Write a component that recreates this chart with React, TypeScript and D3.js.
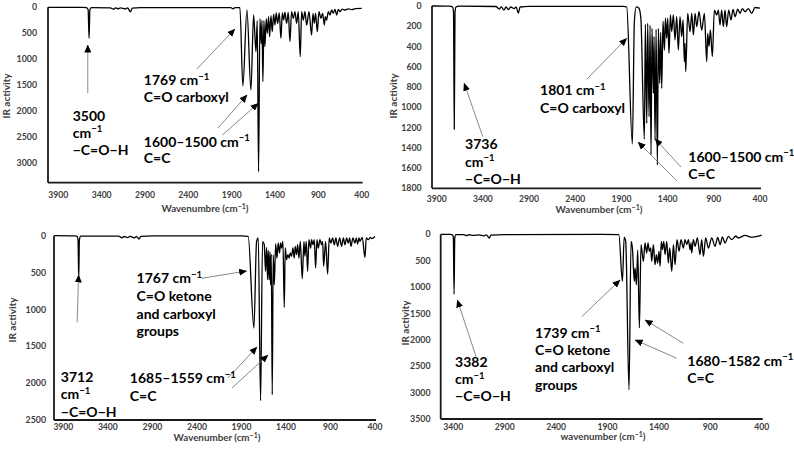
import React from 'react';
import * as d3 from 'd3';

type Pt = [number, number];

// ---------- DATA (wavenumber cm-1, IR activity) ----------
const p1Spectrum: Pt[] = [
  [4019,0],[3620,2],[3575,6],[3556,45],[3545,598],[3536,45],[3518,8],[3300,10],[3262,38],[3240,10],[3205,30],[3185,10],[3125,30],[3100,12],[3068,88],[3048,14],[2950,5],[1910,5],[1883,28],[1862,6],[1805,6],
  [1771,1519],[1724,50],[1678,1597],[1647,149],[1620,856],[1605,260],[1590,3173],[1574,220],[1559,700],[1550,250],[1540,1436],[1528,260],[1517,760],[1501,220],[1490,503],[1474,180],[1463,567],[1447,160],[1432,470],[1416,130],[1401,342],[1386,110],[1370,309],[1351,110],[1332,599],[1316,110],[1301,245],[1286,100],[1266,309],[1247,100],[1228,663],[1209,84],[1189,213],[1170,84],[1151,309],[1132,84],[1109,953],[1093,84],[1074,245],[1055,84],[1035,342],[1008,84],[978,535],[962,116],[947,309],[932,116],[912,470],[893,84],[870,213],[851,116],[831,342],[820,180],[805,245],[785,84],[766,149],[747,52],[728,116],[708,40],[689,149],[670,40],[651,84],[624,35],[593,52],[554,30],[516,45],[470,25],[400,20]
];
const p2Spectrum: Pt[] = [
  [3951,0],[3760,2],[3728,10],[3718,60],[3710,1217],[3702,60],[3690,8],[3660,2],[3260,5],[3222,30],[3200,8],[3172,40],[3150,10],[3122,35],[3100,10],[3062,25],[3040,10],[3016,70],[2998,10],[2900,3],[1880,3],[1843,10],
  [1782,1363],[1760,150],[1740,8],[1712,20],[1690,120],[1652,1316],[1641,180],[1626,1158],[1616,170],[1601,1093],[1590,190],[1580,1471],[1569,220],[1554,862],[1547,300],[1536,1323],[1525,230],[1511,1570],[1500,220],[1486,764],[1475,260],[1464,813],[1450,150],[1435,435],[1424,120],[1410,319],[1399,120],[1385,467],[1370,89],[1356,253],[1338,89],[1320,336],[1302,105],[1284,435],[1266,105],[1248,303],[1233,138],[1219,550],[1212,369],[1204,648],[1183,72],[1157,253],[1139,72],[1121,286],[1103,72],[1085,204],[1060,56],[1031,237],[1002,72],[977,550],[966,270],[952,401],[937,237],[916,500],[894,40],[869,89],[851,40],[833,188],[815,40],[797,204],[779,40],[761,204],[739,40],[714,138],[692,33],[670,105],[641,30],[616,72],[591,25],[562,56],[526,25],[490,72],[454,15],[400,20]
];
const p3Spectrum: Pt[] = [
  [4005,0],[3770,3],[3745,8],[3735,60],[3727,575],[3720,60],[3708,5],[3280,5],[3240,30],[3220,8],[3180,25],[3150,8],[3100,30],[3080,10],[3050,45],[3030,10],[2900,3],[1900,3],[1824,10],
  [1760,1252],[1730,76],[1711,31],[1685,2238],[1663,80],[1644,120],[1629,483],[1618,160],[1606,597],[1599,200],[1588,600],[1580,220],[1573,664],[1565,250],[1554,2157],[1543,260],[1531,664],[1516,110],[1501,303],[1487,99],[1472,235],[1460,99],[1449,167],[1434,76],[1419,972],[1408,167],[1393,325],[1378,257],[1363,303],[1352,235],[1337,280],[1322,167],[1307,303],[1296,144],[1281,257],[1269,122],[1254,303],[1239,76],[1217,583],[1198,76],[1187,280],[1172,76],[1157,483],[1142,54],[1123,167],[1112,54],[1097,122],[1082,54],[1067,438],[1052,54],[1037,167],[1018,54],[1000,122],[988,76],[977,416],[955,76],[932,520],[914,31],[895,99],[876,31],[857,122],[839,31],[820,144],[797,31],[775,144],[756,31],[737,122],[719,31],[700,99],[685,31],[670,144],[648,31],[625,99],[610,31],[595,113],[580,31],[569,76],[543,22],[513,294],[498,31],[475,54],[453,22],[438,40],[400,10]
];
const p4Spectrum: Pt[] = [
  [3523,0],[3430,3],[3408,10],[3400,60],[3393,1136],[3386,60],[3375,8],[3300,8],[3270,25],[3250,8],[3200,20],[3150,10],[3100,30],[3080,10],[3050,70],[3035,15],[2900,5],[1950,3],[1790,8],
  [1755,891],[1738,60],[1723,133],[1691,2943],[1671,133],[1658,260],[1639,891],[1632,638],[1619,954],[1606,300],[1590,1775],[1574,196],[1551,512],[1535,165],[1519,354],[1506,165],[1493,323],[1480,260],[1470,512],[1454,196],[1438,575],[1425,386],[1412,544],[1399,323],[1389,607],[1376,133],[1366,291],[1353,133],[1340,386],[1324,133],[1308,544],[1295,260],[1275,701],[1259,196],[1243,575],[1224,102],[1204,323],[1185,102],[1162,260],[1146,102],[1129,196],[1113,102],[1097,291],[1087,165],[1081,354],[1065,102],[1048,228],[1026,70],[1000,386],[984,102],[967,417],[945,70],[919,260],[886,70],[854,228],[828,57],[805,196],[782,50],[757,165],[724,38],[692,102],[653,32],[627,70],[562,20],[497,55],[400,15]
];

const xTicksA = [3900, 3400, 2900, 2400, 1900, 1400, 900, 400];
const xTicksB = [3400, 2900, 2400, 1900, 1400, 900, 400];
const p1YTicks = [0, 500, 1000, 1500, 2000, 2500, 3000];
const p2YTicks = [0, 200, 400, 600, 800, 1000, 1200, 1400, 1600, 1800];
const p3YTicks = [0, 500, 1000, 1500, 2000, 2500];
const p4YTicks = [0, 500, 1000, 1500, 2000, 2500, 3000, 3500];

const xTitles = ['Wavenumbre (cm^−1^)', 'Wavenumber (cm^−1^)', 'Wavenumber (cm^−1^)', 'wavenumber (cm^−1^)'];
const yTitle = 'IR activity';

// annotations: text anchor and arrows in data coordinates
const p1Notes = [
  { lines: ['3500', 'cm^−1', '−C=O−H'], at: [3734, 2195] as Pt },
  { lines: ['1769 cm^−1', 'C=O carboxyl'], at: [2914, 1500] as Pt },
  { lines: ['1600–1500 cm^−1', 'C=C'], at: [2914, 2691] as Pt },
];
const p1Arrows: [Pt, Pt][] = [
  [[3560, 1654], [3560, 728]],
  [[2302, 1191], [1863, 419]],
  [[2057, 2330], [1722, 1693]],
  [[2006, 2465], [1594, 1853]],
];
const p2Notes = [
  { lines: ['3736', 'cm^−1', '−C=O−H'], at: [3593, 1412] as Pt },
  { lines: ['1801 cm^−1', 'C=O carboxyl'], at: [2781, 879] as Pt },
  { lines: ['1600–1500 cm^−1', 'C=C'], at: [1176, 1537] as Pt },
];
const p2Arrows: [Pt, Pt][] = [
  [[3401, 1290], [3603, 763]],
  [[2276, 724], [1843, 319]],
  [[1298, 1728], [1720, 1343]],
  [[1255, 1589], [1536, 1313]],
];
const p3Notes = [
  { lines: ['3712', 'cm^−1', '−C=O−H'], at: [3928, 1981] as Pt },
  { lines: ['1767 cm^−1', 'C=O ketone', 'and carboxyl', 'groups'], at: [3078, 646] as Pt },
  { lines: ['1685–1559 cm^−1', 'C=C'], at: [3153, 2003] as Pt },
];
const p3Arrows: [Pt, Pt][] = [
  [[3745, 1175], [3729, 533]],
  [[2347, 578], [1842, 479]],
  [[2052, 1931], [1726, 1510]],
  [[2007, 2067], [1602, 1618]],
];
const p4Notes = [
  { lines: ['3382', 'cm^−1', '−C=O−H'], at: [3383, 2508] as Pt },
  { lines: ['1739 cm^−1', 'C=O ketone', 'and carboxyl', 'groups'], at: [2605, 1958] as Pt },
  { lines: ['1680–1582 cm^−1', 'C=C'], at: [1124, 2489] as Pt },
];
const p4Arrows: [Pt, Pt][] = [
  [[3179, 2318], [3361, 1244]],
  [[2151, 1561], [1778, 866]],
  [[1227, 2348], [1632, 2002]],
  [[1163, 2064], [1535, 1623]],
];

// ---------- LAYOUT ----------
const panels = [
  { spectrum: p1Spectrum, xDomain: [4019, 400], yDomain: [0, 3386], xTicks: xTicksA, yTicks: p1YTicks,
    box: { l: 48, r: 361.7, t: 7.3, b: 182.7 }, yTickX: 37, xTickY: 195, xTitleAt: [205, 212], yTitleAt: [6.5, 96],
    title: xTitles[0], notes: p1Notes, arrows: p1Arrows, noteGap: 16.8 },
  { spectrum: p2Spectrum, xDomain: [3951, 400], yDomain: [0, 1800], xTicks: xTicksA, yTicks: p2YTicks,
    box: { l: 432, r: 760, t: 6, b: 188.3 }, yTickX: 421.7, xTickY: 198.5, xTitleAt: [599, 213], yTitleAt: [393, 96],
    title: xTitles[1], notes: p2Notes, arrows: p2Arrows, noteGap: 17.7 },
  { spectrum: p3Spectrum, xDomain: [4005, 400], yDomain: [0, 2500], xTicks: xTicksA, yTicks: p3YTicks,
    box: { l: 54, r: 375, t: 235.7, b: 420 }, yTickX: 46, xTickY: 426.5, xTitleAt: [217, 440.8], yTitleAt: [12.5, 320],
    title: xTitles[2], notes: p3Notes, arrows: p3Arrows, noteGap: 17.7 },
  { spectrum: p4Spectrum, xDomain: [3523, 400], yDomain: [0, 3500], xTicks: xTicksB, yTicks: p4YTicks,
    box: { l: 440.7, r: 761.7, t: 234.3, b: 419 }, yTickX: 430.5, xTickY: 426.5, xTitleAt: [603, 440.3], yTitleAt: [405, 323],
    title: xTitles[3], notes: p4Notes, arrows: p4Arrows, noteGap: 17.4 },
];

const FONT = 'Lato, "Open Sans", sans-serif';

function RichText({ text, supSize, shift }: { text: string; supSize: number; shift: number }) {
  const parts = text.split('^');
  const out: React.ReactNode[] = [];
  let raised = false;
  parts.forEach((p, i) => {
    if (p === '') { if (i % 2 === 1) raised = false; return; }
    if (i % 2 === 1) {
      out.push(<tspan key={i} dy={-shift} fontSize={supSize}>{p}</tspan>);
      raised = true;
    } else {
      out.push(<tspan key={i} dy={raised ? shift : 0}>{p}</tspan>);
      raised = false;
    }
  });
  return <>{out}</>;
}

function Panel({ cfg }: { cfg: typeof panels[number] }) {
  const { box } = cfg;
  const sx = d3.scaleLinear().domain(cfg.xDomain).range([box.l, box.r]);
  const sy = d3.scaleLinear().domain(cfg.yDomain).range([box.t, box.b]);
  const line = d3.line<Pt>().x(d => sx(d[0])).y(d => sy(d[1])).curve(d3.curveMonotoneX);
  return (
    <g>
      {cfg.yTicks.map(t => (
        <text key={'y' + t} x={cfg.yTickX} y={sy(t)} dy="0.35em" textAnchor="end" fontFamily={FONT}
          fontWeight={700} fontSize={8.8} fill="#404040">{t}</text>
      ))}
      {cfg.xTicks.map(t => (
        <text key={'x' + t} x={sx(t)} y={cfg.xTickY} dy="0.35em" textAnchor="middle" fontFamily={FONT}
          fontWeight={700} fontSize={8.6} fill="#404040">{t}</text>
      ))}
      <text x={cfg.xTitleAt[0]} y={cfg.xTitleAt[1]} dy="0.35em" textAnchor="middle" fontFamily={FONT}
        fontWeight={700} fontSize={9.8} fill="#404040">
        <RichText text={cfg.title} supSize={7} shift={3.2} />
      </text>
      <text transform={`translate(${cfg.yTitleAt[0]},${cfg.yTitleAt[1]}) rotate(-90)`} dy="0.35em" textAnchor="middle"
        fontFamily={FONT} fontWeight={700} fontSize={10} fill="#404040">{yTitle}</text>
      <path d={line(cfg.spectrum) || ''} fill="none" stroke="#000" strokeWidth={1.3} strokeLinejoin="round" />
      <line x1={box.l} x2={box.l} y1={box.t} y2={box.b} stroke="#1a1a1a" strokeWidth={1.8} />
      <line x1={box.l} x2={box.r + 1} y1={box.b} y2={box.b} stroke="#1a1a1a" strokeWidth={1.8} />
      {cfg.arrows.map((a, i) => (
        <line key={'a' + i} x1={sx(a[0][0])} y1={sy(a[0][1])} x2={sx(a[1][0])} y2={sy(a[1][1])}
          stroke="#7a7a7a" strokeWidth={0.9} markerEnd="url(#ah)" />
      ))}
      {cfg.notes.map((n, i) => (
        <text key={'n' + i} fontFamily={FONT} fontWeight={700} fontSize={14} fill="#000">
          {n.lines.map((ln, j) => (
            <tspan key={j} x={sx(n.at[0])} y={sy(n.at[1]) + j * cfg.noteGap}>
              <RichText text={ln} supSize={9.5} shift={5.5} />
            </tspan>
          ))}
        </text>
      ))}
    </g>
  );
}

export default function App() {
  return (
    <svg width={794} height={457} style={{ position: 'absolute', left: 0, top: 0 }}>
      <defs>
        <marker id="ah" markerUnits="userSpaceOnUse" markerWidth={8} markerHeight={7} refX={7.5} refY={3.5} orient="auto">
          <path d="M0,0 L8,3.5 L0,7 z" fill="#000" />
        </marker>
      </defs>
      <rect width={794} height={457} fill="#fff" />
      {panels.map((p, i) => <Panel key={i} cfg={p} />)}
    </svg>
  );
}
